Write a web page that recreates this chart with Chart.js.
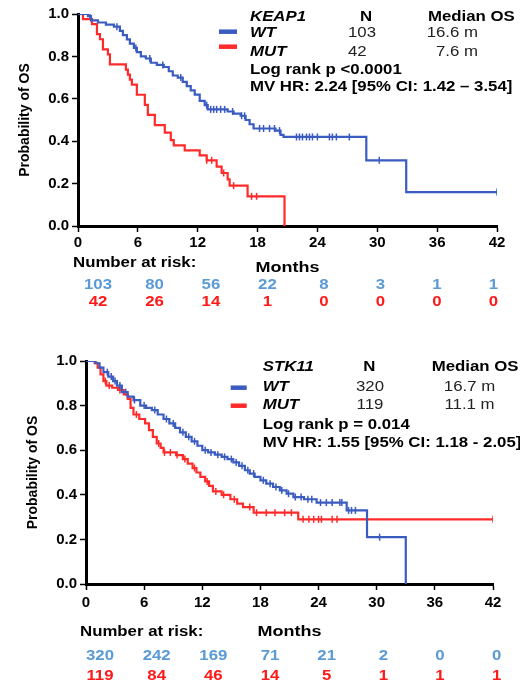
<!DOCTYPE html>
<html>
<head>
<meta charset="utf-8">
<script src="https://cdn.jsdelivr.net/npm/chart.js@4.4.1/dist/chart.umd.min.js"></script>
<style>
	html, body { margin: 0; padding: 0; background: #fff; }
	body { width: 520px; height: 683px; position: relative; overflow: hidden; }
	canvas { position: absolute; left: 0; }
</style>
</head>
<body>
<canvas id="keapChart" width="520" height="330" style="top:0"></canvas>
<canvas id="stkChart" width="520" height="343" style="top:340px"></canvas>
<script>
// Tick labels (months)
const monthTicks = [0, 6, 12, 18, 24, 30, 36, 42];

// KEAP1 panel - KM steps (time in months, survival after the event)
const keapWtT = [0, 1.0, 1.3, 2.0, 2.8, 3.6, 4.2, 4.5, 4.9, 5.2, 5.6, 5.9, 6.3, 6.8, 7.3, 7.9, 8.6, 9.1, 9.5, 10.0, 10.5, 10.9, 11.3, 11.7, 12.2, 12.7, 13.0, 15.0, 15.6, 16.3, 16.8, 17.2, 17.6, 19.8, 20.3, 20.6, 28.9, 32.9, 42];
const keapWtS = [1.0, 0.99, 0.97, 0.96, 0.95, 0.94, 0.92, 0.90, 0.88, 0.86, 0.84, 0.82, 0.80, 0.79, 0.77, 0.76, 0.75, 0.73, 0.71, 0.70, 0.68, 0.66, 0.64, 0.62, 0.59, 0.57, 0.55, 0.54, 0.53, 0.52, 0.50, 0.48, 0.46, 0.45, 0.43, 0.42, 0.31, 0.16, 0.16];
const keapMutT = [0, 0.5, 1.4, 1.9, 2.2, 2.5, 3.0, 3.2, 4.8, 5.0, 5.2, 5.4, 5.9, 6.7, 7.0, 7.7, 8.7, 9.3, 9.6, 10.7, 12.2, 12.9, 13.9, 14.4, 15.0, 15.2, 17.0, 20.7];
const keapMutS = [1.0, 0.976, 0.952, 0.905, 0.881, 0.833, 0.810, 0.762, 0.738, 0.714, 0.690, 0.667, 0.619, 0.571, 0.524, 0.476, 0.44, 0.405, 0.38, 0.357, 0.333, 0.31, 0.28, 0.25, 0.22, 0.19, 0.14, 0.0];
const keapWtCens = [1.2, 3.9, 5.8, 7.2, 8.5, 10.3, 12.9, 13.3, 13.6, 13.9, 14.3, 14.7, 15.5, 16.4, 16.7, 18.2, 18.6, 19.2, 19.7, 20.2, 21.9, 22.2, 22.5, 22.9, 23.2, 23.5, 24.0, 25.2, 25.5, 25.9, 27.2, 30.2, 42];
const keapMutCens = [12.9, 13.4, 14.6, 15.6, 17.4, 17.9];
const keapRiskWt = [103, 80, 56, 22, 8, 3, 1, 1];
const keapRiskMut = [42, 26, 14, 1, 0, 0, 0, 0];
const keapHead = ['KEAP1', 'N', 'Median OS'];
const keapN = ['103', '42'];
const keapMedian = ['16.6 m', '7.6 m'];
const keapStats = ['Log rank p <0.0001', 'MV HR: 2.24 [95% CI: 1.42 \u2013 3.54]'];

// STK11 panel
const stkWtT = [0, 1.0, 1.4, 1.8, 2.3, 2.8, 3.2, 3.7, 4.3, 4.9, 5.6, 6.2, 6.8, 7.4, 8.0, 8.6, 9.2, 9.7, 10.3, 10.9, 11.5, 12.0, 12.6, 13.3, 14.0, 14.6, 15.2, 15.8, 16.4, 16.9, 17.4, 18.0, 18.6, 19.3, 20.0, 20.7, 21.4, 22.5, 23.8, 26.9, 29.0, 33.0];
const stkWtS = [1.0, 0.99, 0.97, 0.95, 0.93, 0.91, 0.89, 0.86, 0.84, 0.825, 0.80, 0.79, 0.78, 0.76, 0.74, 0.72, 0.70, 0.68, 0.66, 0.64, 0.62, 0.60, 0.59, 0.58, 0.57, 0.56, 0.545, 0.53, 0.51, 0.495, 0.48, 0.465, 0.45, 0.435, 0.42, 0.405, 0.39, 0.38, 0.365, 0.33, 0.21, 0.0];
const stkMutT = [0, 0.9, 1.2, 1.5, 1.8, 2.1, 2.7, 3.3, 3.9, 4.3, 4.6, 4.9, 5.5, 6.1, 6.5, 6.9, 7.3, 7.7, 8.0, 9.3, 10.0, 10.5, 11.0, 11.4, 11.8, 12.3, 12.7, 13.1, 14.0, 14.9, 15.6, 16.2, 17.3, 21.9, 42];
const stkMutS = [1.0, 0.99, 0.97, 0.94, 0.91, 0.89, 0.88, 0.87, 0.85, 0.83, 0.79, 0.76, 0.74, 0.72, 0.69, 0.66, 0.63, 0.61, 0.59, 0.578, 0.56, 0.54, 0.52, 0.50, 0.48, 0.46, 0.44, 0.415, 0.40, 0.38, 0.36, 0.345, 0.32, 0.29, 0.29];
const stkWtCens = [2.2, 2.6, 3.0, 3.5, 4.1, 5.0, 6.0, 7.1, 8.3, 9.0, 10.0, 10.6, 11.2, 12.3, 12.9, 13.6, 14.3, 15.0, 15.5, 16.1, 16.7, 17.3, 18.3, 19.0, 19.6, 20.2, 20.9, 21.6, 22.2, 22.9, 23.3, 24.2, 24.8, 25.4, 26.2, 26.4, 27.1, 27.4, 27.8, 30.3];
const stkMutCens = [2.0, 2.4, 3.5, 5.2, 7.5, 8.1, 8.7, 9.4, 10.2, 11.2, 12.5, 13.4, 14.2, 15.3, 16.9, 17.6, 18.6, 19.5, 20.5, 21.2, 22.4, 23.0, 23.5, 24.0, 24.3, 25.4, 25.9, 42];
const stkRiskWt = [320, 242, 169, 71, 21, 2, 0, 0];
const stkRiskMut = [119, 84, 46, 14, 5, 1, 1, 1];
const stkHead = ['STK11', 'N', 'Median OS'];
const stkN = ['320', '119'];
const stkMedian = ['16.7 m', '11.1 m'];
const stkStats = ['Log rank p = 0.014', 'MV HR: 1.55 [95% CI: 1.18 - 2.05]'];

// Styling
const BLUE = '#3a5bc0';
const RED = '#ff2b2b';
const RISK_BLUE = '#5b9bd5';
const RISK_RED = '#ff1a1a';
const FAMILY = '"Liberation Sans", Arial, Helvetica, sans-serif';
const SX = 1.2; // text in the source is a bit wide

Chart.defaults.font.family = FAMILY;
Chart.defaults.color = '#000';

function steps(t, s) {
	return t.map((x, i) => ({ x, y: s[i] }));
}

function survAt(t, s, m) {
	let v = s[0];
	for (let i = 0; i < t.length; i++) if (t[i] <= m) v = s[i];
	return v;
}

function censors(t, s, list) {
	return list.map(m => ({ x: m, y: survAt(t, s, m) }));
}

function txt(ctx, str, x, y, font, color, align) {
	ctx.save();
	ctx.translate(x, y);
	ctx.scale(SX, 1);
	ctx.font = font;
	ctx.fillStyle = color;
	ctx.textAlign = align || 'left';
	ctx.textBaseline = 'middle';
	ctx.fillText(str, 0, 0);
	ctx.restore();
}

// Legend block + number-at-risk table
function panelPlugin(p) {
	return {
		id: 'panel',
		afterDraw(chart) {
			const ctx = chart.ctx;
			const xs = chart.scales.x;
			const b = `bold 14px ${FAMILY}`;
			const bi = `italic bold 14px ${FAMILY}`;
			const r = `14px ${FAMILY}`;
			const L = p.layout;

			// legend marks
			ctx.save();
			ctx.lineWidth = 4.5;
			ctx.strokeStyle = BLUE;
			ctx.beginPath(); ctx.moveTo(L.markX[0], L.markY[0]); ctx.lineTo(L.markX[1], L.markY[0]); ctx.stroke();
			ctx.strokeStyle = RED;
			ctx.beginPath(); ctx.moveTo(L.markX[0], L.markY[1]); ctx.lineTo(L.markX[1], L.markY[1]); ctx.stroke();
			ctx.restore();

			txt(ctx, p.head[0], L.textX, L.rows[0], bi, '#000');
			txt(ctx, p.head[1], L.nHeadX, L.rows[0], b, '#000', 'center');
			txt(ctx, p.head[2], L.medHeadX, L.rows[0], b, '#000');
			txt(ctx, 'WT', L.textX, L.rows[1], bi, '#000');
			txt(ctx, 'MUT', L.textX, L.rows[2], bi, '#000');
			p.n.forEach((v, i) => txt(ctx, v, L.numX, L.rows[1 + i], r, '#222', L.numAlign));
			p.median.forEach((v, i) => txt(ctx, v, L.medX, L.rows[1 + i], r, '#222', L.medAlign));
			txt(ctx, p.stats[0], L.textX, L.rows[3], b, '#000');
			txt(ctx, p.stats[1], L.textX, L.rows[4], b, '#000');

			// at-risk table
			txt(ctx, 'Number at risk:', L.riskLabel[0], L.riskLabel[1], b, '#000');
			txt(ctx, 'Months', (chart.chartArea.left + chart.chartArea.right) / 2, L.monthsY, `bold 15px ${FAMILY}`, '#000', 'center');
			const x0 = xs.getPixelForValue(monthTicks[0]) + L.riskInset[0];
			const x1 = xs.getPixelForValue(monthTicks[monthTicks.length - 1]) + L.riskInset[1];
			const n = p.riskWt.length;
			for (let i = 0; i < n; i++) {
				const x = x0 + (x1 - x0) * i / (n - 1);
				txt(ctx, String(p.riskWt[i]), x, L.riskY[0], b, RISK_BLUE, 'center');
				txt(ctx, String(p.riskMut[i]), x, L.riskY[1], b, RISK_RED, 'center');
			}
		}
	};
}

function makeChart(id, p) {
	const L = p.layout;
	const axisGrid = { drawOnChartArea: false, drawTicks: true, tickLength: 6, tickWidth: 1.5, tickColor: '#000' };
	const axisBorder = { display: true, width: 3, color: '#000' };
	const tickFont = { size: 15, weight: 'bold' };
	return new Chart(document.getElementById(id), {
		type: 'line',
		data: {
			datasets: [
				{ data: steps(p.wtT, p.wtS), borderColor: BLUE, borderWidth: 2.2, stepped: true, pointRadius: 0, fill: false },
				{ data: steps(p.mutT, p.mutS), borderColor: RED, borderWidth: 2.2, stepped: true, pointRadius: 0, fill: false },
				{ type: 'scatter', data: censors(p.wtT, p.wtS, p.wtCens), showLine: false, pointStyle: 'line', rotation: 90, pointRadius: 3.5, borderColor: BLUE, borderWidth: 1.5 },
				{ type: 'scatter', data: censors(p.mutT, p.mutS, p.mutCens), showLine: false, pointStyle: 'line', rotation: 90, pointRadius: 3.5, borderColor: RED, borderWidth: 1.5 }
			]
		},
		options: {
			responsive: false,
			animation: false,
			events: [],
			layout: { padding: { left: 0, right: L.padRight, top: L.padTop, bottom: 0 } },
			plugins: { legend: { display: false }, tooltip: { enabled: false } },
			scales: {
				x: {
					type: 'linear', min: 0, max: 42,
					afterBuildTicks: s => { s.ticks = monthTicks.map(v => ({ value: v })); },
					ticks: { font: tickFont, color: '#000', padding: L.xTickPad, maxRotation: 0, autoSkip: false },
					grid: axisGrid,
					border: axisBorder,
					afterFit: s => { s.height = L.xHeight; }
				},
				y: {
					min: 0, max: 1,
					ticks: { stepSize: 0.2, font: tickFont, color: '#000', padding: 3, callback: v => v.toFixed(1) },
					grid: axisGrid,
					border: axisBorder,
					title: { display: true, text: 'Probability of OS', color: '#000', font: { size: 14, weight: 'bold' }, padding: { top: L.titlePad, bottom: 0 } },
					afterFit: s => { s.width = L.yWidth; }
				}
			}
		},
		plugins: [panelPlugin(p)]
	});
}

makeChart('keapChart', {
	wtT: keapWtT, wtS: keapWtS, mutT: keapMutT, mutS: keapMutS,
	wtCens: keapWtCens, mutCens: keapMutCens,
	riskWt: keapRiskWt, riskMut: keapRiskMut,
	head: keapHead, n: keapN, median: keapMedian, stats: keapStats,
	layout: {
		padTop: 14, padRight: 23, yWidth: 78, xHeight: 104, xTickPad: 2, titlePad: 17,
		rows: [16.7, 33.3, 51.7, 70, 87], textX: 250, nHeadX: 366,
		numX: 348, numAlign: 'left', medHeadX: 428, medX: 478, medAlign: 'right',
		markX: [219, 237], markY: [31.7, 46.7],
		riskLabel: [73, 262.7], monthsY: 268.3, riskY: [285, 301.7], riskInset: [20, -3.7]
	}
});

makeChart('stkChart', {
	wtT: stkWtT, wtS: stkWtS, mutT: stkMutT, mutS: stkMutS,
	wtCens: stkWtCens, mutCens: stkMutCens,
	riskWt: stkRiskWt, riskMut: stkRiskMut,
	head: stkHead, n: stkN, median: stkMedian, stats: stkStats,
	layout: {
		padTop: 21, padRight: 27, yWidth: 86, xHeight: 99, xTickPad: 4, titlePad: 25,
		rows: [26.7, 46.7, 65, 85, 103.3], textX: 262.7, nHeadX: 369.3,
		numX: 370, numAlign: 'center', medHeadX: 431.7, medX: 469.5, medAlign: 'center',
		markX: [230.7, 246.7], markY: [47.7, 65.7],
		riskLabel: [80, 291.7], monthsY: 291.7, riskY: [316, 336], riskInset: [14, 3.7]
	}
});
</script>
</body>
</html>
